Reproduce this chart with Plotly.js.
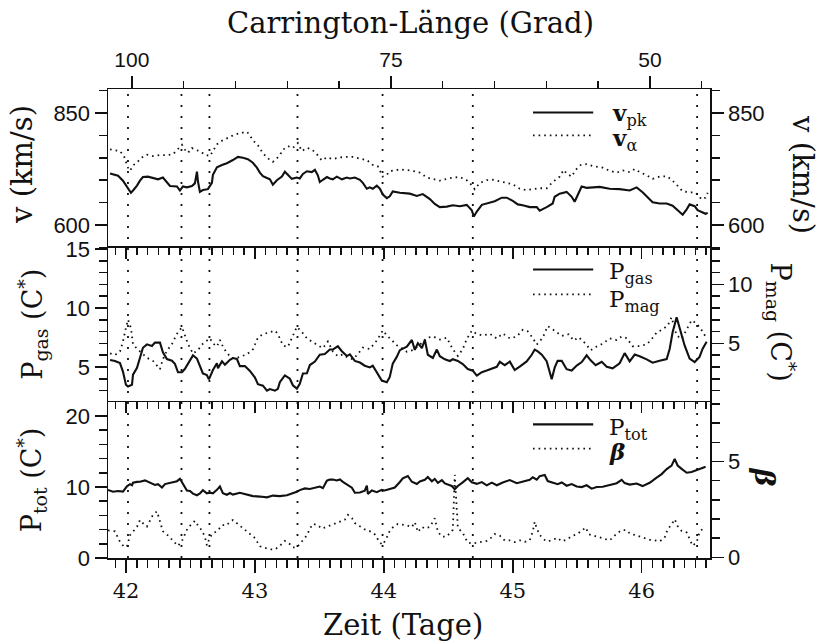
<!DOCTYPE html>
<html><head><meta charset="utf-8">
<script src="https://cdn.plot.ly/plotly-3.0.1.min.js"></script>
<style>html,body{margin:0;padding:0;background:#fff}#chart{width:819px;height:641px}</style>
</head><body><div id="chart"></div>
<script>
// ---- data ----
const eventDays = [42.015, 42.43, 42.647, 43.33, 43.99, 44.69, 46.43];
const dayTicks = [42, 43, 44, 45, 46];
const carrTicks = [100, 75, 50];
const vTicks = [600, 850];
const pgasTicks = [5, 10, 15];
const pmagTicks = [5, 10];
const ptotTicks = [0, 10, 20];
const betaTicks = [0, 5];

const tVpk = [41.876,41.938,41.976,42.015,42.038,42.054,42.085,42.108,42.131,42.170,42.209,42.248,42.286,42.317,42.341,42.395,42.418,42.441,42.472,42.511,42.534,42.550,42.558,42.573,42.596,42.635,42.666,42.674,42.705,42.744,42.782,42.829,42.868,42.907,42.945,42.984,43.015,43.038,43.062,43.093,43.116,43.139,43.170,43.209,43.232,43.255,43.286,43.325,43.348,43.372,43.403,43.441,43.465,43.488,43.503,43.527,43.558,43.581,43.604,43.635,43.674,43.713,43.736,43.775,43.814,43.837,43.868,43.891,43.914,43.945,43.969,43.992,44.023,44.046,44.069,
44.124,44.201,44.256,44.302,44.357,44.395,44.434,44.488,44.535,44.589,44.643,44.682,44.698,44.721,44.760,44.806,44.860,44.915,44.953,45.000,45.039,45.077,45.132,45.186,45.209,45.263,45.310,45.325,45.364,45.418,45.457,45.480,45.503,45.534,45.573,45.612,45.674,45.751,45.829,45.907,45.961,46.007,46.046,46.085,46.139,46.194,46.240,46.279,46.318,46.349,46.372,46.411,46.434,46.465,46.496,46.512];
const vPk = [715,710,699,681,672,677,688,699,707,708,705,702,706,695,687,686,677,686,684,687,693,719,697,674,678,680,694,712,729,734,738,745,752,750,747,739,728,717,709,705,702,690,700,708,719,712,703,706,704,714,720,718,723,711,696,701,707,704,702,708,702,706,704,706,701,694,681,684,681,688,681,668,660,664,675,
672,670,665,669,658,647,640,641,644,642,645,633,619,630,645,649,653,661,661,654,646,644,640,640,632,640,648,663,670,674,663,652,667,686,683,684,685,681,680,677,684,673,663,651,648,648,643,634,623,635,646,642,633,629,625,627];

const tValpha = [41.876,41.914,41.953,41.984,42.015,42.031,42.054,42.085,42.124,42.162,42.209,42.263,42.317,42.364,42.403,42.434,42.457,42.480,42.511,42.534,42.573,42.612,42.651,42.674,42.705,42.744,42.782,42.829,42.883,42.938,42.961,42.984,43.023,43.062,43.100,43.139,43.170,43.193,43.217,43.255,43.294,43.333,43.364,43.403,43.441,43.480,43.519,43.558,43.604,43.659,43.713,43.759,43.814,43.868,43.914,43.953,43.992,44.023,44.046,
44.124,44.201,44.279,44.333,44.380,44.434,44.488,44.535,44.589,44.643,44.682,44.705,44.744,44.798,44.845,44.899,44.953,45.000,45.054,45.108,45.155,45.209,45.263,45.310,45.364,45.395,45.418,45.457,45.488,45.527,45.573,45.628,45.698,45.752,45.806,45.853,45.907,45.946,45.984,46.039,46.085,46.139,46.194,46.232,46.271,46.318,46.372,46.411,46.434,46.465,46.496,46.512];
const vAlpha = [769,767,765,754,728,721,733,740,751,757,754,756,756,758,771,779,768,761,772,768,765,757,754,765,780,788,794,800,805,808,800,789,778,760,749,741,749,756,768,776,772,783,765,772,769,758,744,751,747,751,752,752,748,745,734,731,708,712,720,
724,722,717,706,703,699,703,706,707,700,689,680,694,700,701,698,694,691,681,678,680,682,682,696,708,723,715,708,723,734,736,731,728,721,717,722,718,725,718,711,703,708,709,701,690,675,673,673,668,657,661,672];

const tPgas = [41.876,41.914,41.953,41.976,41.999,42.015,42.046,42.054,42.085,42.108,42.131,42.162,42.201,42.224,42.263,42.286,42.317,42.356,42.379,42.403,42.434,42.457,42.480,42.519,42.550,42.573,42.596,42.627,42.643,42.674,42.705,42.713,42.744,42.767,42.806,42.829,42.860,42.883,42.922,42.961,43.000,43.023,43.062,43.093,43.116,43.155,43.178,43.193,43.232,43.271,43.294,43.325,43.348,43.372,43.403,43.426,43.465,43.503,43.542,43.581,43.604,43.643,43.674,43.713,43.736,43.775,43.814,43.852,43.891,43.914,43.953,43.984,44.023,44.046,44.069,44.100,
44.124,44.178,44.217,44.240,44.264,44.295,44.318,44.341,44.380,44.411,44.434,44.473,44.512,44.535,44.574,44.612,44.651,44.690,44.721,44.760,44.798,44.837,44.876,44.899,44.938,44.977,45.015,45.054,45.108,45.147,45.170,45.194,45.225,45.263,45.302,45.325,45.348,45.380,45.418,45.457,45.496,45.535,45.573,45.604,45.643,45.690,45.729,45.775,45.829,45.868,45.907,45.946,45.984,46.039,46.085,46.139,46.194,46.217,46.240,46.271,46.294,46.333,46.372,46.411,46.449,46.473,46.504];
const pGas = [5.60,5.51,5.33,4.62,3.50,3.36,3.50,4.36,4.93,5.78,6.63,6.92,6.78,7.07,7.07,6.24,5.68,5.54,5.27,4.56,4.57,4.85,5.29,5.99,5.72,5.02,4.46,4.33,3.96,4.75,5.32,4.90,5.48,5.20,5.62,5.76,5.68,5.08,5.08,4.67,4.11,3.55,3.42,3.00,3.14,3.00,3.15,3.72,4.30,4.01,3.46,3.17,3.59,4.46,4.47,5.17,5.46,6.04,6.10,6.48,6.48,6.76,6.34,5.93,6.07,5.52,5.38,5.11,4.97,5.12,4.43,3.86,3.72,4.16,5.29,5.86,
6.43,6.72,7.29,6.45,7.02,6.60,7.31,6.04,5.77,6.48,5.92,5.65,5.51,5.66,5.52,5.25,4.83,4.69,4.27,4.57,4.71,4.86,5.02,5.44,5.16,5.46,4.75,5.04,5.48,6.04,6.48,6.33,6.05,5.50,3.96,4.95,5.52,5.52,4.82,4.70,5.13,5.42,5.99,5.57,5.15,5.44,5.03,4.89,5.32,6.18,5.49,6.06,5.92,5.65,5.37,5.53,5.68,6.53,7.94,9.22,8.24,6.83,5.71,5.42,5.86,6.55,7.14];

const tPmag = [41.876,41.914,41.953,41.976,41.999,42.015,42.038,42.054,42.108,42.162,42.209,42.263,42.286,42.317,42.356,42.395,42.434,42.457,42.480,42.519,42.558,42.596,42.635,42.651,42.674,42.705,42.728,42.751,42.782,42.821,42.860,42.899,42.938,42.984,43.023,43.062,43.116,43.155,43.178,43.217,43.255,43.294,43.325,43.364,43.403,43.441,43.488,43.527,43.566,43.604,43.643,43.682,43.721,43.759,43.798,43.837,43.891,43.945,43.992,44.023,44.062,44.100,
44.124,44.178,44.225,44.279,44.333,44.380,44.434,44.488,44.535,44.574,44.612,44.643,44.682,44.721,44.767,44.822,44.876,44.922,44.977,45.031,45.077,45.116,45.155,45.186,45.232,45.271,45.310,45.348,45.380,45.434,45.473,45.511,45.566,45.604,45.643,45.698,45.752,45.806,45.845,45.884,45.930,45.984,46.039,46.077,46.116,46.163,46.201,46.232,46.271,46.310,46.349,46.387,46.426,46.465,46.504];
const pMag = [4.16,4.02,4.32,5.16,6.31,7.01,6.31,4.90,4.32,3.79,3.52,2.82,3.67,4.38,4.95,5.81,6.38,5.67,4.96,4.14,4.44,4.98,5.29,5.43,5.00,4.74,5.30,4.74,4.19,3.77,3.77,3.93,4.08,4.50,5.50,5.78,5.94,6.08,5.80,4.83,4.70,5.69,6.40,5.97,5.43,5.15,4.88,4.60,5.17,4.33,3.92,4.06,3.79,3.66,4.09,4.65,4.53,5.24,6.10,5.68,5.26,4.85,
4.71,4.30,4.44,4.88,5.46,5.60,5.33,5.48,4.50,3.94,4.51,5.37,6.08,5.80,5.67,5.82,5.41,5.84,5.43,5.58,6.15,6.02,5.46,4.90,5.47,6.47,6.19,5.92,5.64,5.78,5.24,5.53,4.97,4.42,4.70,4.98,5.43,5.29,5.59,5.45,4.76,4.77,4.92,5.35,5.92,6.20,6.50,7.21,5.67,5.39,6.25,6.96,6.68,6.13,5.43];

const tPtot = [41.860,41.899,41.938,41.976,42.007,42.031,42.046,42.054,42.085,42.108,42.147,42.170,42.201,42.224,42.248,42.279,42.302,42.325,42.364,42.395,42.418,42.441,42.472,42.496,42.519,42.550,42.573,42.596,42.627,42.651,42.674,42.705,42.728,42.751,42.782,42.806,42.829,42.883,42.938,42.984,43.038,43.093,43.139,43.193,43.248,43.286,43.325,43.348,43.387,43.426,43.480,43.503,43.527,43.558,43.581,43.604,43.635,43.659,43.682,43.713,43.752,43.775,43.814,43.852,43.868,43.876,43.907,43.945,43.984,44.007,44.031,44.062,44.085,
44.124,44.147,44.186,44.217,44.256,44.279,44.318,44.341,44.372,44.395,44.419,44.450,44.473,44.496,44.527,44.550,44.574,44.612,44.651,44.682,44.721,44.760,44.798,44.837,44.876,44.922,44.977,45.031,45.077,45.132,45.155,45.186,45.209,45.248,45.271,45.310,45.348,45.380,45.418,45.457,45.496,45.535,45.573,45.612,45.651,45.698,45.752,45.806,45.845,45.868,45.907,45.961,46.007,46.062,46.116,46.155,46.194,46.232,46.256,46.279,46.310,46.349,46.387,46.426,46.465,46.496];
const pTot = [9.58,9.34,9.44,9.35,10.10,10.40,10.25,10.60,10.72,10.74,10.93,10.75,10.47,10.29,10.39,9.93,10.41,10.50,10.66,10.82,11.15,10.44,9.50,9.44,9.07,8.84,9.08,9.55,9.10,9.20,9.12,9.60,10.08,9.14,8.91,9.15,8.93,9.18,8.95,8.72,8.65,8.54,8.79,8.71,8.83,9.06,9.32,9.56,9.80,9.72,9.92,10.07,9.84,10.89,11.04,11.05,10.92,11.07,10.73,10.37,9.91,9.20,9.22,9.47,10.18,9.03,9.50,9.27,9.60,9.52,9.62,9.77,9.93,
10.70,11.21,11.55,10.74,10.43,10.77,11.02,11.41,10.80,11.14,10.59,10.96,10.51,10.37,10.14,9.68,10.15,10.65,11.23,10.66,10.44,10.69,10.23,10.62,10.25,10.64,10.98,10.53,10.79,11.03,11.37,11.04,11.53,11.68,10.84,10.62,10.40,10.64,10.18,10.42,10.07,9.99,10.24,9.77,10.01,10.03,10.28,10.53,11.01,10.55,10.34,10.49,10.13,10.60,11.33,11.82,12.53,13.01,13.96,13.03,12.56,12.01,12.11,12.36,12.60,12.84];

const tBeta = [41.860,41.914,41.953,41.984,42.007,42.031,42.054,42.085,42.108,42.131,42.162,42.186,42.209,42.240,42.263,42.286,42.317,42.341,42.364,42.403,42.434,42.457,42.480,42.511,42.534,42.558,42.589,42.612,42.627,42.651,42.674,42.713,42.744,42.782,42.806,42.829,42.860,42.883,42.922,42.961,43.000,43.038,43.077,43.116,43.155,43.193,43.232,43.271,43.294,43.325,43.348,43.372,43.403,43.426,43.449,43.488,43.519,43.558,43.597,43.620,43.659,43.697,43.721,43.752,43.775,43.814,43.852,43.891,43.930,43.969,43.992,44.023,44.046,44.069,44.108,
44.178,44.217,44.240,44.264,44.295,44.318,44.357,44.380,44.395,44.419,44.450,44.488,44.512,44.535,44.550,44.574,44.612,44.651,44.690,44.744,44.798,44.837,44.860,44.899,44.938,44.977,45.015,45.054,45.093,45.132,45.155,45.170,45.186,45.209,45.248,45.271,45.310,45.348,45.380,45.418,45.457,45.496,45.535,45.566,45.589,45.628,45.674,45.713,45.752,45.806,45.845,45.884,45.907,45.946,45.984,46.023,46.062,46.101,46.139,46.178,46.201,46.232,46.256,46.279,46.310,46.349,46.372,46.395,46.426,46.449,46.473];
const beta = [1.41,1.36,0.81,0.56,0.57,1.16,1.34,1.60,1.95,1.78,1.61,1.96,2.22,2.40,1.88,1.36,1.20,1.03,0.85,0.60,0.86,1.21,1.56,1.74,1.91,1.66,1.40,1.06,0.63,1.06,1.24,1.41,1.68,1.68,1.86,1.95,1.78,1.61,1.43,1.18,1.01,0.58,0.50,0.42,0.42,0.60,0.86,0.69,0.52,0.53,0.70,0.88,1.15,1.49,1.75,1.68,1.50,1.60,1.69,1.77,1.87,1.96,2.22,2.05,1.79,1.62,1.46,1.37,1.20,0.77,0.66,1.04,1.39,1.56,1.74,
1.67,1.58,1.84,1.32,1.59,1.51,1.59,1.86,2.04,1.34,1.08,1.09,1.27,1.44,4.30,1.54,1.28,0.77,0.73,0.78,0.86,1.05,1.22,1.14,0.88,0.89,0.80,0.89,0.81,0.90,1.34,1.86,1.52,1.17,0.91,0.83,0.92,1.02,0.84,0.93,1.11,1.20,1.39,1.56,1.21,1.13,1.05,0.97,0.89,1.24,1.42,1.42,1.25,1.17,1.09,1.00,0.92,0.89,0.84,1.02,1.46,1.72,1.99,1.64,1.38,1.30,0.96,0.61,0.79,1.31,1.49];

// ---- styling ----
const INK = '#111';
const SOLID = {color: INK, width: 2.1};
const DOTS = {color: INK, width: 1.8, dash: '1.6px,4px'};
const sansTick = {family: 'Liberation Sans, Arial, sans-serif', size: 22, color: INK};
const serif = 'DejaVu Serif, Liberation Serif, serif';

function tr(x, y, xa, ya, line) {
  return {x: x, y: y, xaxis: xa, yaxis: ya, type: 'scatter', mode: 'lines',
          line: line, hoverinfo: 'skip', showlegend: false};
}
const data = [
  tr(tVpk, vPk, 'x', 'y', SOLID), tr(tValpha, vAlpha, 'x', 'y4', DOTS),
  tr(tPgas, pGas, 'x2', 'y2', SOLID), tr(tPmag, pMag, 'x2', 'y5', DOTS),
  tr(tPtot, pTot, 'x3', 'y3', SOLID), tr(tBeta, beta, 'x3', 'y6', DOTS),
  // helper (empty) trace so the Carrington axis is drawn
  {x: carrTicks, y: carrTicks.map(() => null), xaxis: 'x4', yaxis: 'y', type: 'scatter', mode: 'lines', hoverinfo: 'skip', showlegend: false}
];

const xRange = [41.86, 46.53];
const common = {showgrid: false, zeroline: false, showline: true, linecolor: INK, linewidth: 1.5,
                tickcolor: INK, tickwidth: 1.5};
function yAx(domain, range, vals, minorDt, side, overlay) {
  const a = Object.assign({}, common, {
    range: range, tickmode: 'array', tickvals: vals, ticks: 'outside', ticklen: 12,
    tickfont: sansTick, side: side, anchor: 'x',
    minor: {ticks: 'outside', ticklen: 8, tickwidth: 1.5, tickcolor: INK, tickmode: 'linear', tick0: 0, dtick: minorDt, showgrid: false}
  });
  if (overlay) a.overlaying = overlay; else a.domain = domain;
  return a;
}
const D1 = [0.661, 1], D2 = [0.3326, 0.661], D3 = [0, 0.3326];
function minorX(ticks, len) {
  return {ticks: ticks, ticklen: len, tickwidth: 1.5, tickcolor: INK, tickmode: 'linear', tick0: 42, dtick: 1/12, showgrid: false};
}

const shapes = eventDays.map(d => ({type: 'line', xref: 'x', yref: 'paper', x0: d, x1: d, y0: 0, y1: 1,
  line: {color: INK, width: 1.8, dash: '2px,9px'}, layer: 'above'}));
function sample(y, dash) {
  return {type: 'line', xref: 'paper', yref: 'paper', x0: 0.706, x1: 0.806, y0: y, y1: y,
          line: dash ? DOTS : SOLID};
}
shapes.push(sample(0.950, false), sample(0.901, true), sample(0.615, false), sample(0.562, true), sample(0.285, false), sample(0.233, true));

function ann(text, x, y, size, angle, xa, ya) {
  return {text: text, x: x, y: y, xref: 'paper', yref: 'paper', showarrow: false,
          font: {family: serif, size: size, color: INK}, textangle: angle || 0,
          xanchor: xa || 'center', yanchor: ya || 'middle'};
}
const annotations = [
  ann('Carrington-Länge (Grad)', 0.503, 1.141, 29),
  ann('Zeit (Tage)', 0.49, -0.143, 29),
  ann('v (km/s)', -0.143, 0.840, 29, -90),
  ann('P<sub>gas</sub> (C<sup>*</sup>)', -0.125, 0.499, 27, -90),
  ann('P<sub>tot</sub> (C<sup>*</sup>)', -0.128, 0.168, 27, -90),
  ann('v (km/s)', 1.154, 0.817, 29, 90),
  ann('P<sub>mag</sub> (C<sup>*</sup>)', 1.118, 0.504, 27, 90),
  ann('<i><b>β</b></i>', 1.091, 0.172, 27, 90),
  ann('<b>v</b><sub>pk</sub>', 0.834, 0.945, 23, 0, 'left'),
  ann('<b>v</b><sub>α</sub>', 0.834, 0.893, 23, 0, 'left'),
  ann('P<sub>gas</sub>', 0.829, 0.607, 23, 0, 'left'),
  ann('P<sub>mag</sub>', 0.829, 0.548, 23, 0, 'left'),
  ann('P<sub>tot</sub>', 0.829, 0.276, 23, 0, 'left'),
  ann('<i><b>β</b></i>', 0.829, 0.228, 23, 0, 'left')
];

const layout = {
  width: 819, height: 641, margin: {l: 108, r: 109, t: 89, b: 83},
  paper_bgcolor: '#fff', plot_bgcolor: '#fff', showlegend: false,
  font: {family: serif, color: INK},
  xaxis: Object.assign({}, common, {domain: [0, 1], anchor: 'y', side: 'top', range: xRange,
    showticklabels: false, ticks: '', }),
  xaxis2: Object.assign({}, common, {domain: [0, 1], anchor: 'y2', side: 'top', range: xRange, tickmode: 'array', tickvals: dayTicks,
    ticks: 'inside', ticklen: 11, showticklabels: false, minor: minorX('inside', 7)}),
  xaxis3: Object.assign({}, common, {domain: [0, 1], anchor: 'y3', side: 'top', range: xRange, tickmode: 'array', tickvals: dayTicks,
    ticks: 'inside', ticklen: 11, showticklabels: false, minor: minorX('inside', 7)}),
  xaxis4: Object.assign({}, common, {overlaying: 'x', anchor: 'y', side: 'top', range: [102.3, 44.2], tickmode: 'array', tickvals: carrTicks,
    ticks: 'outside', ticklen: 12, tickfont: {family: 'Liberation Sans, Arial, sans-serif', size: 21, color: INK},
    minor: {ticks: 'outside', ticklen: 7, tickwidth: 1.5, tickcolor: INK, tickmode: 'linear', tick0: 0, dtick: 5, showgrid: false}}),
  xaxis5: Object.assign({}, common, {overlaying: 'x3', anchor: 'y3', side: 'bottom', range: xRange, tickmode: 'array', tickvals: dayTicks,
    ticks: 'outside', ticklen: 13, tickfont: {family: serif, size: 21, color: INK}, minor: minorX('outside', 8)}),
  yaxis: yAx(D1, [548.7, 903.6], vTicks, 50, 'left'),
  yaxis2: yAx(D2, [2.04, 15.08], pgasTicks, 1, 'left'),
  yaxis3: yAx(D3, [0, 21.97], ptotTicks, 2, 'left'),
  yaxis4: yAx(null, [548.7, 903.6], vTicks, 50, 'right', 'y'),
  yaxis5: yAx(null, [0.04, 13.08], pmagTicks, 1, 'right', 'y2'),
  yaxis6: yAx(null, [-0.03, 8.1], betaTicks, 1, 'right', 'y3'),
  shapes: shapes, annotations: annotations
};
layout.yaxis4.anchor = 'x'; layout.yaxis5.anchor = 'x2'; layout.yaxis6.anchor = 'x3';
layout.yaxis2.anchor = 'x2'; layout.yaxis3.anchor = 'x3';
// helper for bottom axis with labels
data.push({x: dayTicks, y: dayTicks.map(() => null), xaxis: 'x5', yaxis: 'y3', type: 'scatter', mode: 'lines', hoverinfo: 'skip', showlegend: false});

Plotly.newPlot('chart', data, layout, {displayModeBar: false, staticPlot: true});
</script></body></html>
